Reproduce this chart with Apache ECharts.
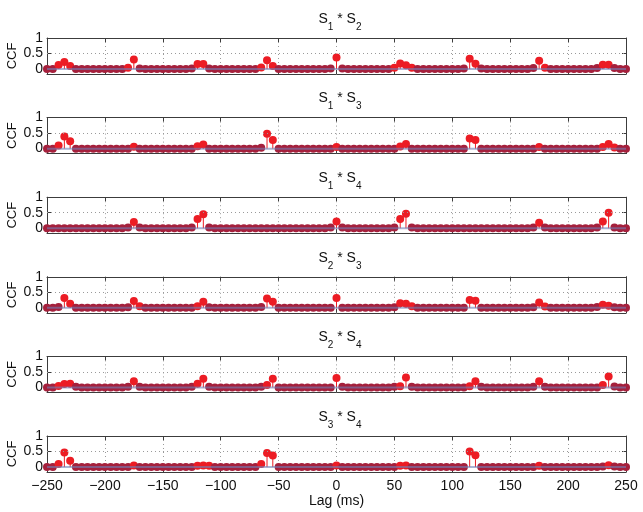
<!DOCTYPE html>
<html><head><meta charset="utf-8">
<script src="https://cdn.jsdelivr.net/npm/echarts@6/dist/echarts.min.js"></script>
<style>html,body{margin:0;padding:0;background:#fff}#c{width:643px;height:512px}</style>
</head><body><div id="c"></div>
<script>
const lags=[-250,-245,-240,-235,-230,-225,-220,-215,-210,-205,-200,-195,-190,-185,-180,-175,-170,-165,-160,-155,
-150,-145,-140,-135,-130,-125,-120,-115,-110,-105,-100,-95,-90,-85,-80,-75,-70,-65,-60,-55,
-50,-45,-40,-35,-30,-25,-20,-15,-10,-5,0,5,10,15,20,25,30,35,40,45,
50,55,60,65,70,75,80,85,90,95,100,105,110,115,120,125,130,135,140,145,
150,155,160,165,170,175,180,185,190,195,200,205,210,215,220,225,230,235,240,245,250];
const xTicks=[-250,-200,-150,-100,-50,0,50,100,150,200,250];
const yTicks=[0,0.5,1];
const pairs=[['1','2'],['1','3'],['1','4'],['2','3'],['2','4'],['3','4']];
const s12=[0,0,0.13,0.23,0.10,0,0,0,0,0, 0,0,0,0,0.04,0.31,0.02,0,0,0, 0,0,0,0,0,0.02,0.16,0.16,0.02,0, 0,0,0,0,0,0,0,0.05,0.28,0.10, 0,0,0,0,0,0,0,0,0,0.02,
0.37,0.02,0,0,0,0,0,0,0,0, 0.04,0.18,0.12,0.04,0,0,0,0,0,0, 0,0,0.02,0.33,0.17,0.02,0,0,0,0, 0,0,0,0,0.03,0.27,0.04,0,0,0, 0,0,0,0,0,0.03,0.14,0.14,0.03,0, 0];
const s13=[0,0,0.10,0.39,0.24,0,0,0,0,0, 0,0,0,0,0,0.06,0,0,0,0, 0,0,0,0,0,0,0.08,0.13,0,0, 0,0,0,0,0,0,0,0.03,0.48,0.28, 0,0,0,0,0,0,0,0,0,0,
0.05,0,0,0,0,0,0,0,0,0, 0,0.07,0.15,0,0,0,0,0,0,0, 0,0,0,0.33,0.28,0,0,0,0,0, 0,0,0,0,0,0.05,0,0,0,0, 0,0,0,0,0,0,0.05,0.15,0.04,0, 0];
const s14=[0,0,0,0,0,0,0,0,0,0, 0,0,0,0,0.02,0.20,0.02,0,0,0, 0,0,0,0,0,0.02,0.30,0.45,0.02,0, 0,0,0,0,0,0,0,0,0,0, 0,0,0,0,0,0,0,0,0,0.02,
0.22,0.02,0,0,0,0,0,0,0,0, 0.02,0.30,0.47,0.02,0,0,0,0,0,0, 0,0,0,0,0,0,0,0,0,0, 0,0,0,0,0.02,0.18,0.02,0,0,0, 0,0,0,0,0,0.02,0.22,0.50,0.02,0, 0];
const s23=[0,0,0.03,0.32,0.13,0,0,0,0,0, 0,0,0,0,0.02,0.22,0.05,0,0,0, 0,0,0,0,0,0,0.05,0.20,0.02,0, 0,0,0,0,0,0,0,0.03,0.30,0.20, 0,0,0,0,0,0,0,0,0,0,
0.32,0,0,0,0,0,0,0,0,0, 0.02,0.15,0.13,0.05,0,0,0,0,0,0, 0,0,0,0.25,0.23,0,0,0,0,0, 0,0,0,0,0.02,0.17,0.04,0,0,0, 0,0,0,0,0,0.03,0.10,0.07,0.02,0, 0];
const s24=[0,0,0.05,0.11,0.12,0.02,0,0,0,0, 0,0,0,0,0.02,0.20,0.02,0,0,0, 0,0,0,0,0,0.02,0.12,0.28,0.02,0, 0,0,0,0,0,0,0,0.02,0.08,0.28, 0,0,0,0,0,0,0,0,0,0,
0.30,0.02,0,0,0,0,0,0,0,0, 0.02,0.04,0.32,0.02,0,0,0,0,0,0, 0,0,0,0.04,0.20,0.02,0,0,0,0, 0,0,0,0,0.02,0.20,0.02,0,0,0, 0,0,0,0,0,0,0.08,0.35,0.03,0, 0];
const s34=[0,0,0.10,0.47,0.20,0,0,0,0,0, 0,0,0,0,0,0.05,0,0,0,0, 0,0,0,0,0,0,0.04,0.05,0.04,0, 0,0,0,0,0,0,0,0.10,0.45,0.37, 0,0,0,0,0,0,0,0,0,0,
0.05,0,0,0,0,0,0,0,0,0, 0,0.04,0.05,0,0,0,0,0,0,0, 0,0,0,0.50,0.38,0,0,0,0,0, 0,0,0,0,0,0.04,0,0,0,0, 0,0,0,0,0,0,0.02,0.06,0.02,0, 0];
const series=[s12,s13,s14,s23,s24,s34];

const FONT='Liberation Sans, Arial, sans-serif';
const FS=13;
const tops=[38,117.6,197.2,276.8,356.4,436];
const H=36;
const RED='#ec1c24', DARK='#a5203c', BLUE='#6f80b8', AX='#3c3c3c';

const opt={animation:false,backgroundColor:'#fff',grid:[],xAxis:[],yAxis:[],series:[],title:[]};
tops.forEach((t,i)=>{
  opt.grid.push({left:47,right:17,top:t,height:H,show:false,containLabel:false,outerBoundsMode:'none'});
  const common={gridIndex:i,type:'value',min:-250,max:250,interval:50};
  opt.xAxis.push(Object.assign({},common,{position:'bottom',
    axisLine:{show:true,onZero:false,lineStyle:{color:AX,width:1}},
    axisTick:{show:true,inside:true,length:4,lineStyle:{color:AX}},
    axisLabel:{show:i===5,formatter:v=>String(v).replace('-','\u2212'),color:'#111',fontFamily:FONT,fontSize:FS+1,margin:7,hideOverlap:false},
    splitLine:{show:true,lineStyle:{color:'#9a9a9a',type:[1,3],width:1}},
    name:i===5?'Lag (ms)':'',nameLocation:'middle',nameGap:22,nameMoveOverlap:false,nameTextStyle:{color:'#111',fontFamily:FONT,fontSize:FS+1}}));
  opt.xAxis.push(Object.assign({},common,{position:'top',
    axisLine:{show:true,onZero:false,lineStyle:{color:AX,width:1}},
    axisTick:{show:true,inside:true,length:4,lineStyle:{color:AX}},
    axisLabel:{show:false},splitLine:{show:false}}));
  const ycommon={gridIndex:i,type:'value',min:-0.16,max:1};
  opt.yAxis.push(Object.assign({},ycommon,{position:'left',
    axisLine:{show:true,onZero:false,lineStyle:{color:AX,width:1}},
    axisTick:{show:true,inside:true,length:4,customValues:yTicks,lineStyle:{color:AX}},
    axisLabel:{show:true,customValues:yTicks,color:'#111',fontFamily:FONT,fontSize:FS+1,margin:4,hideOverlap:false},
    splitLine:{show:false},
    name:'CCF',nameLocation:'middle',nameGap:28,nameRotate:90,nameMoveOverlap:false,nameTextStyle:{color:'#111',fontFamily:FONT,fontSize:FS}}));
  opt.yAxis.push(Object.assign({},ycommon,{position:'right',
    axisLine:{show:true,onZero:false,lineStyle:{color:AX,width:1}},
    axisTick:{show:true,inside:true,length:4,customValues:yTicks,lineStyle:{color:AX}},
    axisLabel:{show:false},splitLine:{show:false}}));
  const data=lags.map((l,k)=>[l,series[i][k]]);
  opt.series.push({type:'custom',xAxisIndex:2*i,yAxisIndex:2*i,z:2,silent:true,
    data:data,
    renderItem:(p,api)=>{const x=api.value(0),v=api.value(1);const a=api.coord([x,0]),b=api.coord([x,v]);
      return {type:'line',shape:{x1:a[0],y1:a[1],x2:b[0],y2:b[1]},style:{stroke:RED,lineWidth:1}};},
    markLine:{silent:true,symbol:'none',label:{show:false},lineStyle:{color:'#9a9a9a',type:[1,3],width:1},data:[{yAxis:0.5}]}
  });
  opt.series.push({type:'scatter',xAxisIndex:2*i,yAxisIndex:2*i,z:3,silent:true,symbolSize:8,
    data:data,itemStyle:{color:p=>p.value[1]>0.035?RED:DARK,opacity:1}});
  opt.series.push({type:'line',xAxisIndex:2*i,yAxisIndex:2*i,z:4,silent:true,symbol:'none',
    data:[[-250,0],[250,0]],lineStyle:{color:BLUE,width:2,opacity:0.6}});
  opt.title.push({text:'{s|S}{b|'+pairs[i][0]+'}{s| * S}{b|'+pairs[i][1]+'}',left:335,textAlign:'center',top:t-31,
    textStyle:{fontWeight:'normal',rich:{s:{fontFamily:FONT,fontSize:14,fontWeight:'normal',color:'#111',lineHeight:20,verticalAlign:'top'},
      b:{fontFamily:FONT,fontSize:10,fontWeight:'normal',color:'#111',lineHeight:20,verticalAlign:'bottom',padding:[8,0,0,0]}}}});
});
echarts.init(document.getElementById('c'),null,{renderer:'canvas'}).setOption(opt);
</script></body></html>
